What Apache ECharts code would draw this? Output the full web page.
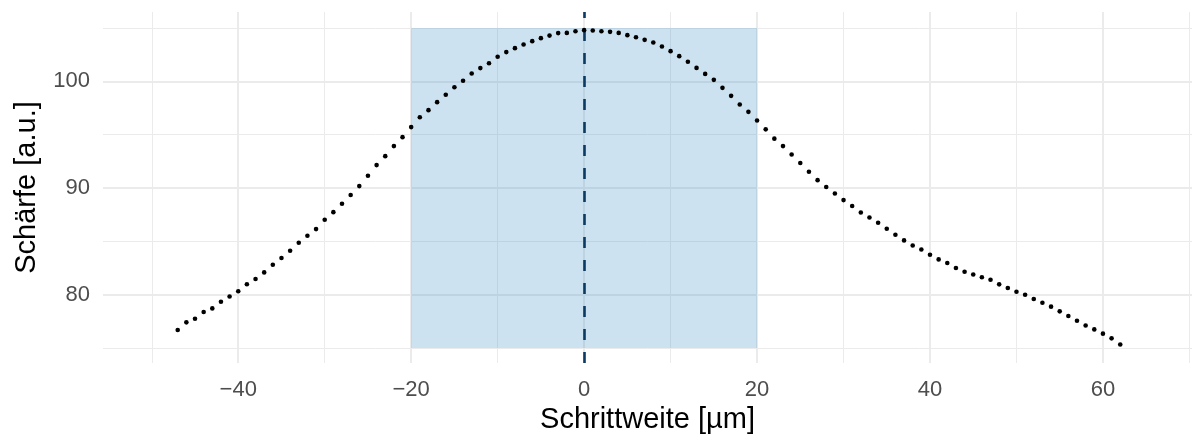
<!DOCTYPE html>
<html>
<head>
<meta charset="utf-8">
<script src="https://cdn.jsdelivr.net/npm/echarts@6/dist/echarts.min.js"></script>
<style>
  html, body { margin: 0; padding: 0; background: #ffffff; }
  #chart { width: 1192px; height: 434px; }
</style>
</head>
<body>
<div id="chart"></div>
<script>
// Focus scan: sharpness per step position
const stepPositions = [
  -47, -46, -45, -44, -43, -42, -41, -40, -39, -38,
  -37, -36, -35, -34, -33, -32, -31, -30, -29, -28,
  -27, -26, -25, -24, -23, -22, -21, -20, -19, -18,
  -17, -16, -15, -14, -13, -12, -11, -10, -9, -8,
  -7, -6, -5, -4, -3, -2, -1, 0, 1, 2,
  3, 4, 5, 6, 7, 8, 9, 10, 11, 12,
  13, 14, 15, 16, 17, 18, 19, 20, 21, 22,
  23, 24, 25, 26, 27, 28, 29, 30, 31, 32,
  33, 34, 35, 36, 37, 38, 39, 40, 41, 42,
  43, 44, 45, 46, 47, 48, 49, 50, 51, 52,
  53, 54, 55, 56, 57, 58, 59, 60, 61, 62
];
const sharpness = [
  76.69, 77.41, 77.75, 78.38, 78.72, 79.34, 79.83, 80.33, 80.98, 81.47,
  82.09, 82.81, 83.44, 84.12, 84.87, 85.53, 86.15, 87.03, 87.74, 88.52,
  89.34, 90.18, 91.15, 92.15, 92.99, 93.93, 94.77, 95.71, 96.63, 97.30,
  98.05, 98.74, 99.45, 100.05, 100.73, 101.24, 101.70, 102.30, 102.74, 103.11,
  103.45, 103.77, 104.05, 104.29, 104.52, 104.54, 104.70, 104.80, 104.76, 104.70,
  104.64, 104.54, 104.33, 104.14, 103.89, 103.64, 103.26, 102.83, 102.36, 101.83,
  101.26, 100.70, 100.14, 99.39, 98.64, 97.83, 97.14, 96.33, 95.50, 94.63,
  93.93, 93.14, 92.34, 91.52, 90.74, 90.09, 89.49, 88.87, 88.31, 87.71,
  87.24, 86.74, 86.18, 85.62, 85.09, 84.62, 84.24, 83.75, 83.31, 82.97,
  82.50, 82.15, 81.90, 81.64, 81.40, 80.97, 80.63, 80.28, 80.00, 79.60,
  79.25, 78.88, 78.44, 78.00, 77.56, 77.12, 76.75, 76.35, 75.91, 75.34
];

// Highlighted search window and best focus position
const windowX = [-20, 20];
const windowY = [75, 105];
const focusPosition = 0;

// Axis ticks and grid lines
const xTickLabels = [-40, -20, 0, 20, 40, 60];
const xMinorLines = [-50, -30, -10, 10, 30, 50, 70];
const yTickLabels = [80, 90, 100];
const yMinorLines = [75, 85, 95, 105];
const xRange = [-55.64, 70.3];
const yRange = [73.6, 106.5];

const FONT = '"Liberation Sans", Arial, Helvetica, sans-serif';
const GRID_COLOR = '#ebebeb';

const points = stepPositions.map((x, i) => [x, sharpness[i]]);

function fmtNum(v) {
  return v < 0 ? '\u2212' + Math.abs(v) : String(v);
}

const gridLines = [];
xTickLabels.forEach(v => gridLines.push({ xAxis: v, lineStyle: { width: 2 } }));
xMinorLines.forEach(v => gridLines.push({ xAxis: v, lineStyle: { width: 1 } }));
yTickLabels.forEach(v => gridLines.push({ yAxis: v, lineStyle: { width: 2 } }));
yMinorLines.forEach(v => gridLines.push({ yAxis: v, lineStyle: { width: 1 } }));

const chart = echarts.init(document.getElementById('chart'), null, { renderer: 'canvas' });

chart.setOption({
  backgroundColor: '#ffffff',
  animation: false,
  textStyle: { fontFamily: FONT },
  grid: { left: 103, right: 0, top: 12, bottom: 71, containLabel: false, outerBoundsMode: 'none' },
  xAxis: {
    type: 'value',
    min: xRange[0],
    max: xRange[1],
    axisLine: { show: false },
    axisTick: { show: false },
    splitLine: { show: false },
    axisLabel: {
      customValues: xTickLabels,
      formatter: fmtNum,
      color: '#4d4d4d',
      fontSize: 22,
      fontFamily: FONT,
      margin: 16
    },
    name: 'Schrittweite [µm]',
    nameLocation: 'middle',
    nameGap: 41,
    nameTextStyle: { color: '#000000', fontSize: 29, fontFamily: FONT }
  },
  yAxis: {
    type: 'value',
    min: yRange[0],
    max: yRange[1],
    axisLine: { show: false },
    axisTick: { show: false },
    splitLine: { show: false },
    axisLabel: {
      customValues: yTickLabels,
      formatter: fmtNum,
      color: '#4d4d4d',
      fontSize: 22,
      fontFamily: FONT,
      margin: 13
    },
    name: 'Schärfe [a.u.]',
    nameLocation: 'middle',
    nameGap: 62,
    nameTextStyle: { color: '#000000', fontSize: 29, fontFamily: FONT }
  },
  series: [
    {
      // background grid lines
      type: 'line',
      data: [],
      z: 0,
      silent: true,
      markLine: {
        z: 0,
        silent: true,
        symbol: 'none',
        label: { show: false },
        lineStyle: { color: GRID_COLOR, type: 'solid' },
        emphasis: { disabled: true },
        data: gridLines
      }
    },
    {
      // search window
      type: 'line',
      data: [],
      z: 1,
      silent: true,
      markArea: {
        z: 1,
        silent: true,
        itemStyle: { color: 'rgba(66,146,198,0.27)' },
        emphasis: { disabled: true },
        data: [[{ xAxis: windowX[0], yAxis: windowY[0] }, { xAxis: windowX[1], yAxis: windowY[1] }]]
      }
    },
    {
      // best focus marker
      type: 'line',
      data: [],
      z: 2,
      silent: true,
      markLine: {
        z: 2,
        silent: true,
        symbol: 'none',
        label: { show: false },
        lineStyle: { color: '#0b3a63', width: 2.6, type: [11, 12] },
        emphasis: { disabled: true },
        data: [{ xAxis: focusPosition }]
      }
    },
    {
      type: 'scatter',
      data: points,
      z: 3,
      symbol: 'circle',
      symbolSize: 4.6,
      itemStyle: { color: '#000000', opacity: 1 },
      silent: true
    }
  ]
});
</script>
</body>
</html>
